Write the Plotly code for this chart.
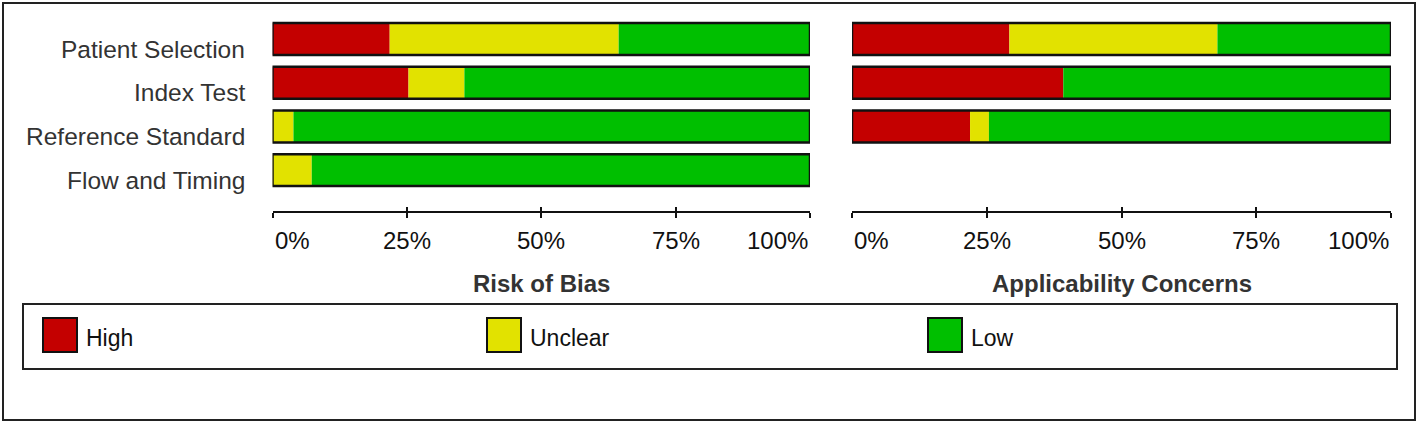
import plotly.graph_objects as go

# QUADAS-2 summary, percent of studies
domains = ["Patient Selection", "Index Test", "Reference Standard", "Flow and Timing"]

rob_high = [21.8, 25.3, 0.0, 0.0]
rob_unclear = [42.6, 10.4, 3.9, 7.3]
rob_low = [35.6, 64.3, 96.1, 92.7]

app_domains = ["Patient Selection", "Index Test", "Reference Standard"]
app_high = [29.2, 39.2, 21.9]
app_unclear = [38.6, 0.0, 3.5]
app_low = [32.2, 60.8, 74.6]

tick_vals = [0, 25, 50, 75, 100]
tick_text = ["0%", "25%", "50%", "75%", "100%"]

levels = ["High", "Unclear", "Low"]
colors = {"High": "#C40000", "Unclear": "#E2E200", "Low": "#00BF00"}

W, H = 1418, 424
FONT = "Liberation Sans, Arial, sans-serif"


def px_x(p):
    return p / W


def px_y(p):
    return 1 - p / H


fig = go.Figure()


def add_panel(cats, high, unclear, low, xa, ya):
    base_u = high
    base_l = [h + u for h, u in zip(high, unclear)]
    total = [h + u + l for h, u, l in zip(high, unclear, low)]
    for name, vals, base in [("High", high, [0] * len(high)),
                             ("Unclear", unclear, base_u),
                             ("Low", low, base_l)]:
        fig.add_trace(go.Bar(y=cats, x=vals, base=base, orientation="h",
                             marker=dict(color=colors[name], line=dict(width=0)),
                             width=0.73, xaxis=xa, yaxis=ya,
                             showlegend=False, hoverinfo="skip"))
    # black frame round each whole bar
    fig.add_trace(go.Bar(y=cats, x=total, base=[0] * len(total), orientation="h",
                         marker=dict(color="rgba(0,0,0,0)",
                                     line=dict(color="#111111", width=2.5)),
                         width=0.73, xaxis=xa, yaxis=ya,
                         showlegend=False, hoverinfo="skip"))


add_panel(domains, rob_high, rob_unclear, rob_low, "x", "y")
add_panel(app_domains, app_high, app_unclear, app_low, "x2", "y2")

# empty traces so the upward tick axes exist
fig.add_trace(go.Scatter(x=[None], y=[None], xaxis="x3", yaxis="y", showlegend=False))
fig.add_trace(go.Scatter(x=[None], y=[None], xaxis="x4", yaxis="y2", showlegend=False))

dom_left = [px_x(272.5), px_x(810)]
dom_right = [px_x(852), px_x(1391)]
dom_y = [px_y(192), px_y(17.2)]
axis_pos = px_y(212)

xbase = dict(range=[0, 100], anchor="free", position=axis_pos, showgrid=False,
             zeroline=False, tickvals=tick_vals, showticklabels=False,
             tickcolor="#111111", tickwidth=2, ticklen=5, fixedrange=True)
ybase = dict(type="category", categoryarray=domains, range=[3.5, -0.5],
             domain=dom_y, showgrid=False, zeroline=False, showline=False,
             showticklabels=False, ticks="", fixedrange=True)

fig.update_layout(
    width=W, height=H,
    margin=dict(l=0, r=0, t=0, b=0),
    paper_bgcolor="white", plot_bgcolor="rgba(0,0,0,0)",
    barmode="overlay", showlegend=False,
    font=dict(family=FONT, size=24, color="#111111"),
    xaxis=dict(xbase, domain=dom_left, showline=True, linecolor="#111111",
               linewidth=2, ticks="outside"),
    xaxis2=dict(xbase, domain=dom_right, showline=True, linecolor="#111111",
                linewidth=2, ticks="outside"),
    xaxis3=dict(xbase, domain=dom_left, overlaying="x", ticks="inside", showline=False),
    xaxis4=dict(xbase, domain=dom_right, overlaying="x2", ticks="inside", showline=False),
    yaxis=dict(ybase, anchor="x"),
    yaxis2=dict(ybase, anchor="x2"),
)

# domain labels
for d in domains:
    fig.add_annotation(x=0, xref="x domain", y=d, yref="y", xanchor="right",
                       xshift=-26, yshift=-10, text=d, showarrow=False,
                       font=dict(size=24.5, color="#333333"))

# tick labels and panel titles
for xr in ["x", "x2"]:
    for v, t in zip(tick_vals, tick_text):
        anchor = "left" if v == tick_vals[0] else ("right" if v == tick_vals[-1] else "center")
        fig.add_annotation(x=v, xref=xr, y=px_y(240), yref="paper", yanchor="middle",
                           xanchor=anchor, text=t, showarrow=False,
                           font=dict(size=24, color="#111111"))

fig.add_annotation(x=0.5, xref="x domain", y=px_y(283), yref="paper", yanchor="middle",
                   text="<b>Risk of Bias</b>", showarrow=False,
                   font=dict(size=24, color="#333333"))
fig.add_annotation(x=0.5, xref="x2 domain", y=px_y(283), yref="paper", yanchor="middle",
                   text="<b>Applicability Concerns</b>", showarrow=False,
                   font=dict(size=24, color="#333333"))

# outer frame and legend box
fig.add_shape(type="rect", xref="paper", yref="paper",
              x0=px_x(3), x1=px_x(1415), y0=px_y(420), y1=px_y(3),
              line=dict(color="#222222", width=2))
fig.add_shape(type="rect", xref="paper", yref="paper",
              x0=px_x(23), x1=px_x(1397), y0=px_y(369), y1=px_y(304),
              line=dict(color="#222222", width=2))

# legend swatches
legend_x = [43, 487, 928]
for lv, lx in zip(levels, legend_x):
    fig.add_shape(type="rect", xref="paper", yref="paper",
                  x0=px_x(lx), x1=px_x(lx + 34), y0=px_y(352), y1=px_y(318),
                  fillcolor=colors[lv], line=dict(color="#111111", width=2))
    fig.add_annotation(x=px_x(lx + 41), xref="paper", y=px_y(338), yref="paper",
                       xanchor="left", yanchor="middle", text=lv, showarrow=False,
                       font=dict(size=23, color="#111111"))

fig.write_html("out.html", config={"displayModeBar": False},
               post_script="document.body.style.margin='0';")
